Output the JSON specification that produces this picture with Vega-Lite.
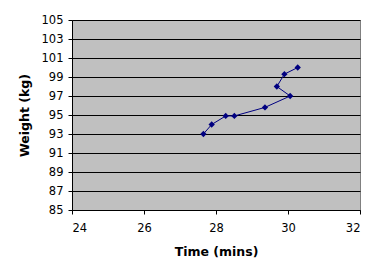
{
  "$schema": "https://vega.github.io/schema/vega-lite/v6.json",
  "width": 288,
  "height": 190,
  "autosize": {"type": "none"},
  "padding": {"left": 72, "top": 20, "right": 20, "bottom": 61},
  "background": "white",
  "config": {
    "view": {"fill": "#C0C0C0", "stroke": "#808080", "strokeWidth": 1},
    "axis": {
      "labelFont": "DejaVu Sans",
      "labelFontSize": 11.5,
      "labelColor": "black",
      "titleFont": "DejaVu Sans",
      "titleFontSize": 12.5,
      "titleFontWeight": "bold",
      "titleColor": "black",
      "domainColor": "black",
      "tickColor": "black",
      "tickSize": 4
    }
  },
  "data": {
    "values": [
      {"i": 1, "time": 27.65, "weight": 93.0},
      {"i": 2, "time": 27.88, "weight": 94.0},
      {"i": 3, "time": 28.27, "weight": 94.9},
      {"i": 4, "time": 28.51, "weight": 94.9},
      {"i": 5, "time": 29.36, "weight": 95.8},
      {"i": 6, "time": 30.06, "weight": 97.0},
      {"i": 7, "time": 29.69, "weight": 98.0},
      {"i": 8, "time": 29.9, "weight": 99.3},
      {"i": 9, "time": 30.27, "weight": 100.0}
    ]
  },
  "encoding": {
    "x": {
      "field": "time", "type": "quantitative",
      "scale": {"domain": [24, 32], "nice": false, "zero": false},
      "axis": {"values": [24, 26, 28, 30, 32], "grid": false, "title": "Time (mins)", "labelPadding": 8, "titlePadding": 12}
    },
    "y": {
      "field": "weight", "type": "quantitative",
      "scale": {"domain": [85, 105], "nice": false, "zero": false},
      "axis": {"values": [85, 87, 89, 91, 93, 95, 97, 99, 101, 103, 105], "grid": true, "gridColor": "black", "gridOpacity": 1, "title": "Weight (kg)", "labelPadding": 5, "titlePadding": 10}
    },
    "order": {"field": "i", "type": "quantitative"}
  },
  "layer": [
    {"mark": {"type": "line", "color": "#000080", "strokeWidth": 1}},
    {"mark": {"type": "point", "shape": "diamond", "filled": true, "color": "#000080", "opacity": 1, "size": 40}}
  ]
}
